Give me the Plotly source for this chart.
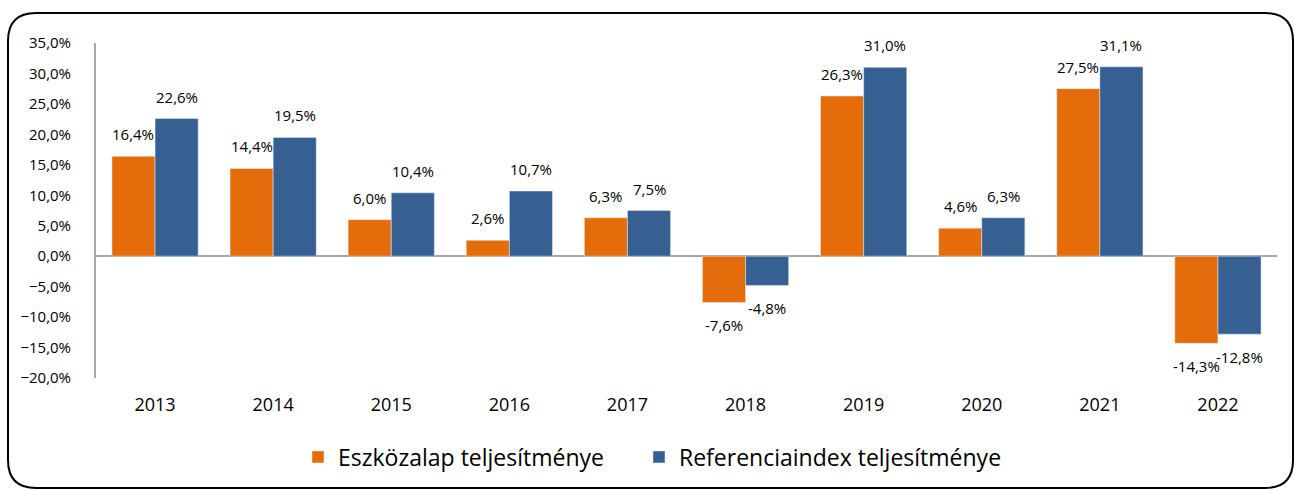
import plotly.graph_objects as go

years = ["2013", "2014", "2015", "2016", "2017", "2018", "2019", "2020", "2021", "2022"]
fund = [16.4, 14.4, 6.0, 2.6, 6.3, -7.6, 26.3, 4.6, 27.5, -14.3]
index = [22.6, 19.5, 10.4, 10.7, 7.5, -4.8, 31.0, 6.3, 31.1, -12.8]
fund_name = "Eszközalap teljesítménye"
index_name = "Referenciaindex teljesítménye"

FONT = "Open Sans"
BARGAP = 0.27
fig = go.Figure()
fig.add_trace(go.Bar(x=years, y=fund, name=fund_name, marker_color="#E46C0A",
                     hoverinfo="skip", legend="legend"))
fig.add_trace(go.Bar(x=years, y=index, name=index_name, marker_color="#376092",
                     hoverinfo="skip", legend="legend2"))

W, H = 1295, 490
L, R, T, B = 96, 1277, 43, 378
pw, ph = R - L, B - T

def px(x):
    return (x - L) / pw

def py(y):
    return (B - y) / ph

# data labels placed relative to each bar end (category index positions)
cat_w = pw / len(years)
bar_w = cat_w * (1 - BARGAP) / 2
annotations = []
for series, sign in ((fund, -1), (index, 1)):
    for i, v in enumerate(series):
        annotations.append(dict(
            x=i, y=v, xref="x", yref="y", text=f"{v:.1f}%".replace(".", ","),
            showarrow=False, xshift=sign * bar_w / 2, yshift=22 if v >= 0 else -23,
            yanchor="middle", xanchor="center",
            font=dict(size=15, family=FONT, color="#000")))

x0, x1, y0, y1 = 8, 1293, 13, 488
r = 28
path = (f"M {px(x0+r)} {py(y0)} L {px(x1-r)} {py(y0)} Q {px(x1)} {py(y0)} {px(x1)} {py(y0+r)} "
        f"L {px(x1)} {py(y1-r)} Q {px(x1)} {py(y1)} {px(x1-r)} {py(y1)} "
        f"L {px(x0+r)} {py(y1)} Q {px(x0)} {py(y1)} {px(x0)} {py(y1-r)} "
        f"L {px(x0)} {py(y0+r)} Q {px(x0)} {py(y0)} {px(x0+r)} {py(y0)} Z")

leg_common = dict(orientation="h", y=py(457), yanchor="middle", xanchor="left",
                  font=dict(size=23, family=FONT), itemwidth=30, bgcolor="rgba(0,0,0,0)")

fig.update_layout(
    width=W, height=H,
    margin=dict(l=L, r=W - R, t=T, b=H - B, pad=0),
    paper_bgcolor="white", plot_bgcolor="white",
    separators=", ",
    barmode="group", bargap=BARGAP, bargroupgap=0,
    font=dict(family=FONT, color="#000"),
    showlegend=True,
    legend=dict(x=px(338 - 40), **leg_common),
    legend2=dict(x=px(680 - 41), **leg_common),
    annotations=annotations,
    shapes=[dict(type="path", path=path, xref="paper", yref="paper",
                 line=dict(color="#000", width=2), fillcolor="rgba(0,0,0,0)", layer="above")],
    xaxis=dict(type="category", showline=False, ticks="", tickfont=dict(size=18, family=FONT),
               ticklabelstandoff=14, showgrid=False),
    yaxis=dict(range=[-20, 35], dtick=5, tick0=0, tickformat=".1f", ticksuffix="%",
               showgrid=False, showline=True, linecolor="#A6A6A6", linewidth=2,
               zeroline=True, zerolinecolor="#A6A6A6", zerolinewidth=2,
               tickfont=dict(size=15, family=FONT), ticklabelstandoff=20, ticks=""),
)

fig.write_html("out.html", config={"displayModeBar": False},
               post_script="document.body.style.margin='0';document.body.style.overflow='hidden';")
